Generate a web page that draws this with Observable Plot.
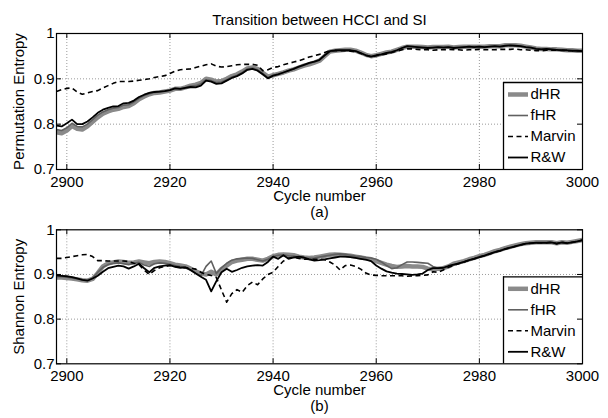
<!DOCTYPE html>
<html><head><meta charset="utf-8">
<script src="https://cdn.jsdelivr.net/npm/d3@7"></script>
<script src="https://cdn.jsdelivr.net/npm/@observablehq/plot@0.6"></script>
<style>
html,body{margin:0;padding:0;background:#fff;}
#chart{width:608px;height:418px;background:#fff;}
#chart svg{display:block;}
</style></head><body><div id="chart"></div>
<script>
const cycles = [
2898,2899,2900,2901,2902,2903,2904,2905,2906,2907,
2908,2909,2910,2911,2912,2913,2914,2915,2916,2917,
2918,2919,2920,2921,2922,2923,2924,2925,2926,2927,
2928,2929,2930,2931,2932,2933,2934,2935,2936,2937,
2938,2939,2940,2941,2942,2943,2944,2945,2946,2947,
2948,2949,2950,2951,2952,2953,2954,2955,2956,2957,
2958,2959,2960,2961,2962,2963,2964,2965,2966,2967,
2968,2969,2970,2971,2972,2973,2974,2975,2976,2977,
2978,2979,2980,2981,2982,2983,2984,2985,2986,2987,
2988,2989,2990,2991,2992,2993,2994,2995,2996,2997,
2998,2999,3000];
const seriesNames = ["dHR","fHR","Marvin","R&W"];
const xTicks = [2900,2920,2940,2960,2980,3000];
const yTicks = [0.7,0.8,0.9,1];
const yTickLabels = ["0.7","0.8","0.9","1"];
const titleText = "Transition between HCCI and SI";
const xLabelText = "Cycle number";
const panelTags = ["(a)","(b)"];
const yLabelTexts = ["Permutation Entropy","Shannon Entropy"];

// Panel (a): Permutation Entropy
const permDHR = [
0.782,0.780,0.786,0.796,0.790,0.788,0.795,0.805,0.815,0.823,
0.828,0.832,0.834,0.838,0.840,0.846,0.855,0.861,0.866,0.869,
0.870,0.872,0.874,0.878,0.878,0.881,0.885,0.887,0.891,0.900,
0.898,0.894,0.895,0.900,0.906,0.910,0.916,0.923,0.925,0.922,
0.913,0.905,0.908,0.911,0.914,0.918,0.921,0.925,0.929,0.932,
0.936,0.940,0.950,0.960,0.962,0.963,0.964,0.964,0.962,0.958,
0.953,0.950,0.952,0.955,0.958,0.960,0.964,0.968,0.971,0.971,
0.971,0.970,0.969,0.970,0.970,0.970,0.971,0.969,0.970,0.971,
0.971,0.971,0.971,0.971,0.972,0.972,0.972,0.974,0.974,0.974,
0.973,0.971,0.969,0.967,0.966,0.966,0.965,0.965,0.964,0.963,
0.963,0.962,0.962];
const permFHR = [
0.788,0.786,0.792,0.802,0.795,0.794,0.800,0.810,0.820,0.827,
0.832,0.835,0.837,0.842,0.843,0.849,0.857,0.863,0.867,0.870,
0.871,0.873,0.875,0.879,0.878,0.881,0.884,0.885,0.889,0.898,
0.896,0.892,0.893,0.898,0.904,0.908,0.914,0.922,0.924,0.920,
0.912,0.903,0.908,0.911,0.914,0.918,0.922,0.926,0.930,0.934,
0.937,0.941,0.951,0.960,0.962,0.963,0.963,0.963,0.962,0.957,
0.952,0.950,0.952,0.954,0.957,0.960,0.963,0.968,0.971,0.971,
0.970,0.970,0.969,0.969,0.970,0.970,0.970,0.969,0.970,0.970,
0.971,0.971,0.971,0.970,0.971,0.972,0.972,0.973,0.974,0.973,
0.972,0.970,0.969,0.967,0.966,0.966,0.965,0.964,0.964,0.963,
0.962,0.962,0.961];
const permMarvin = [
0.872,0.876,0.879,0.880,0.871,0.866,0.869,0.872,0.874,0.880,
0.885,0.890,0.894,0.894,0.894,0.895,0.897,0.898,0.900,0.903,
0.905,0.907,0.912,0.917,0.920,0.921,0.922,0.925,0.928,0.931,
0.933,0.928,0.926,0.927,0.929,0.931,0.932,0.932,0.932,0.930,
0.918,0.920,0.925,0.927,0.931,0.934,0.937,0.940,0.944,0.948,
0.951,0.954,0.958,0.962,0.962,0.962,0.962,0.961,0.960,0.956,
0.952,0.949,0.951,0.953,0.955,0.958,0.961,0.964,0.966,0.966,
0.965,0.964,0.964,0.963,0.964,0.964,0.965,0.964,0.964,0.963,
0.964,0.964,0.965,0.964,0.964,0.964,0.965,0.965,0.965,0.966,
0.964,0.964,0.963,0.962,0.962,0.963,0.963,0.963,0.963,0.962,
0.962,0.962,0.961];
const permRW = [
0.797,0.795,0.802,0.810,0.800,0.800,0.806,0.815,0.825,0.832,
0.836,0.839,0.840,0.846,0.847,0.852,0.860,0.865,0.869,0.871,
0.872,0.873,0.875,0.879,0.878,0.880,0.882,0.881,0.885,0.896,
0.894,0.889,0.890,0.896,0.902,0.906,0.912,0.920,0.922,0.918,
0.910,0.901,0.907,0.910,0.914,0.918,0.922,0.927,0.931,0.935,
0.938,0.942,0.952,0.961,0.963,0.963,0.963,0.963,0.961,0.957,
0.952,0.949,0.952,0.954,0.957,0.959,0.963,0.968,0.972,0.971,
0.970,0.969,0.968,0.969,0.970,0.969,0.970,0.968,0.969,0.970,
0.971,0.970,0.971,0.970,0.971,0.972,0.971,0.973,0.974,0.973,
0.972,0.970,0.969,0.966,0.965,0.966,0.965,0.964,0.963,0.963,
0.962,0.962,0.961];

// Panel (b): Shannon Entropy
const shanDHR = [
0.893,0.893,0.892,0.891,0.889,0.887,0.886,0.890,0.903,0.918,
0.925,0.927,0.929,0.928,0.926,0.927,0.929,0.927,0.925,0.928,
0.929,0.928,0.925,0.922,0.920,0.918,0.913,0.907,0.902,0.900,
0.906,0.900,0.912,0.920,0.928,0.931,0.933,0.935,0.935,0.933,
0.931,0.935,0.941,0.944,0.945,0.944,0.943,0.940,0.938,0.937,
0.938,0.940,0.942,0.944,0.945,0.944,0.943,0.942,0.940,0.938,
0.936,0.934,0.930,0.926,0.922,0.919,0.917,0.918,0.919,0.918,
0.918,0.917,0.913,0.912,0.913,0.914,0.918,0.924,0.927,0.930,
0.934,0.937,0.941,0.944,0.948,0.952,0.955,0.959,0.962,0.965,
0.968,0.970,0.971,0.972,0.972,0.972,0.972,0.970,0.972,0.971,
0.973,0.975,0.977];
const shanFHR = [
0.895,0.895,0.894,0.892,0.890,0.888,0.887,0.892,0.905,0.916,
0.922,0.925,0.926,0.924,0.922,0.925,0.927,0.921,0.918,0.924,
0.926,0.925,0.923,0.920,0.918,0.916,0.910,0.903,0.897,0.918,
0.930,0.902,0.915,0.925,0.932,0.935,0.936,0.937,0.936,0.933,
0.930,0.934,0.940,0.943,0.944,0.942,0.941,0.939,0.937,0.936,
0.937,0.939,0.941,0.943,0.945,0.946,0.945,0.943,0.941,0.940,
0.938,0.937,0.934,0.928,0.920,0.913,0.915,0.922,0.928,0.928,
0.927,0.926,0.925,0.918,0.914,0.914,0.917,0.921,0.925,0.928,
0.932,0.936,0.940,0.943,0.947,0.951,0.954,0.958,0.961,0.964,
0.967,0.969,0.970,0.971,0.971,0.971,0.971,0.969,0.971,0.970,
0.972,0.974,0.976];
const shanMarvin = [
0.936,0.936,0.938,0.940,0.942,0.944,0.945,0.940,0.931,0.931,
0.930,0.930,0.930,0.930,0.929,0.925,0.922,0.910,0.900,0.909,
0.915,0.918,0.920,0.918,0.916,0.915,0.914,0.912,0.905,0.900,
0.898,0.893,0.865,0.838,0.857,0.866,0.860,0.875,0.883,0.877,
0.890,0.900,0.905,0.918,0.930,0.937,0.938,0.936,0.934,0.934,
0.934,0.934,0.933,0.928,0.921,0.910,0.920,0.921,0.918,0.912,
0.903,0.899,0.898,0.897,0.897,0.897,0.897,0.897,0.896,0.897,
0.897,0.898,0.899,0.906,0.905,0.910,0.916,0.920,0.924,0.928,
0.932,0.935,0.939,0.942,0.946,0.950,0.953,0.957,0.960,0.963,
0.966,0.969,0.970,0.971,0.971,0.971,0.972,0.969,0.972,0.970,
0.972,0.974,0.977];
const shanRW = [
0.898,0.897,0.896,0.894,0.891,0.888,0.886,0.891,0.897,0.906,
0.914,0.917,0.920,0.918,0.913,0.918,0.924,0.914,0.905,0.915,
0.918,0.920,0.921,0.917,0.915,0.916,0.910,0.902,0.895,0.888,
0.862,0.885,0.905,0.913,0.906,0.910,0.915,0.918,0.920,0.921,
0.920,0.928,0.940,0.935,0.943,0.935,0.938,0.940,0.938,0.934,
0.931,0.932,0.934,0.936,0.938,0.940,0.940,0.939,0.937,0.935,
0.933,0.930,0.920,0.913,0.907,0.904,0.902,0.901,0.900,0.899,
0.900,0.902,0.910,0.914,0.914,0.915,0.919,0.922,0.925,0.928,
0.932,0.935,0.939,0.942,0.946,0.950,0.953,0.957,0.960,0.963,
0.966,0.969,0.970,0.971,0.971,0.971,0.972,0.969,0.972,0.970,
0.972,0.974,0.977];

const lineStyles = {
  "dHR":    {stroke: "#8a8a8a", strokeWidth: 4.5},
  "fHR":    {stroke: "#606060", strokeWidth: 1.6},
  "Marvin": {stroke: "#000000", strokeWidth: 1.6, strokeDasharray: "5,3.5"},
  "R&W":    {stroke: "#000000", strokeWidth: 1.8}
};
const FONT = "'Liberation Sans', Arial, Helvetica, sans-serif";
const W = 608, ML = 56, MR = 26;
const xDom = [2898, 3000], yDom = [0.7, 1];

function panel({series, yLabel, tag, height, marginTop, marginBottom, withTitle}) {
  const rows = seriesNames.flatMap((name, k) =>
    cycles.map((c, i) => ({cycle: c, value: series[k][i], name})));
  const plotH = height - marginTop - marginBottom;
  const plotW = W - ML - MR;
  const xPerPx = (xDom[1] - xDom[0]) / plotW;
  const yPerPx = (yDom[1] - yDom[0]) / plotH;
  const tx = 5 * xPerPx, ty = 5 * yPerPx;

  // legend box (lower-right corner of the axes), expressed through the scales
  const bw = 79, bh = 87, rowOffsets = [12, 33, 54, 75];
  const boxX1 = xDom[1] - bw * xPerPx;
  const boxY2 = yDom[0] + bh * yPerPx;
  const legendRows = seriesNames.map((name, i) => ({name, y: boxY2 - rowOffsets[i] * yPerPx}));
  const legendMarks = [
    Plot.rect([0], {x1: boxX1, x2: xDom[1], y1: yDom[0], y2: boxY2, fill: "#fff"}),
    Plot.ruleX([boxX1], {x: d => d, y1: yDom[0], y2: boxY2, stroke: "#000", strokeWidth: 1.3}),
    Plot.ruleY([boxY2], {y: d => d, x1: boxX1, x2: xDom[1], stroke: "#000", strokeWidth: 1.3}),
    ...legendRows.map(r => Plot.ruleY([r], {y: "y", x1: boxX1 + 5 * xPerPx, x2: boxX1 + 25 * xPerPx, ...lineStyles[r.name]})),
    Plot.text(legendRows, {x: boxX1 + 27 * xPerPx, y: "y", text: "name", textAnchor: "start", fill: "#000"})
  ];

  const marks = [
    Plot.ruleX(xTicks.filter(t => t > xDom[0] && t < xDom[1]), {x: d => d, stroke: "#9a9a9a", strokeDasharray: "1,2", strokeWidth: 1}),
    Plot.ruleY(yTicks.filter(t => t > yDom[0] && t < yDom[1]), {y: d => d, stroke: "#9a9a9a", strokeDasharray: "1,2", strokeWidth: 1}),
    ...seriesNames.map(name => Plot.line(rows.filter(r => r.name === name),
      {x: "cycle", y: "value", ...lineStyles[name], strokeLinejoin: "round", strokeLinecap: "butt"})),
    ...legendMarks,
    Plot.frame({stroke: "#000", strokeWidth: 1.2}),
    Plot.ruleX(xTicks, {x: d => d, y1: yDom[0], y2: yDom[0] + ty, stroke: "#000"}),
    Plot.ruleX(xTicks, {x: d => d, y1: yDom[1] - ty, y2: yDom[1], stroke: "#000"}),
    Plot.ruleY(yTicks, {y: d => d, x1: xDom[0], x2: xDom[0] + tx, stroke: "#000"}),
    Plot.ruleY(yTicks, {y: d => d, x1: xDom[1] - tx, x2: xDom[1], stroke: "#000"}),
    Plot.axisX(xTicks, {tickSize: 0, tickPadding: 7, tickFormat: d => String(d), label: null, fill: "#000"}),
    Plot.axisY(yTicks, {tickSize: 0, tickPadding: 2, tickFormat: d => yTickLabels[yTicks.indexOf(d)], label: null, fill: "#000"}),
    Plot.text([xLabelText], {text: d => d, frameAnchor: "bottom", textAnchor: "middle", dy: 31.5, fill: "#000"}),
    Plot.text([tag], {text: d => d, frameAnchor: "bottom", textAnchor: "middle", dy: 47, fill: "#000"}),
    Plot.text([yLabel], {text: d => d, frameAnchor: "left", textAnchor: "middle", rotate: -90, dx: -37, fill: "#000"})
  ];
  if (withTitle) marks.push(Plot.text([titleText], {text: d => d, frameAnchor: "top", textAnchor: "middle", dy: -19, fill: "#000"}));
  return Plot.plot({
    width: W, height, marginLeft: ML, marginRight: MR, marginTop, marginBottom,
    style: {fontFamily: FONT, fontSize: "15px", color: "#000", background: "#fff", overflow: "visible"},
    x: {domain: xDom, label: null},
    y: {domain: yDom, label: null},
    marks
  });
}

const chart = document.getElementById("chart");
chart.append(panel({series: [permDHR, permFHR, permMarvin, permRW], yLabel: yLabelTexts[0], tag: panelTags[0],
  height: 226, marginTop: 33, marginBottom: 57, withTitle: true}));
chart.append(panel({series: [shanDHR, shanFHR, shanMarvin, shanRW], yLabel: yLabelTexts[1], tag: panelTags[1],
  height: 192, marginTop: 3.3, marginBottom: 54.7, withTitle: false}));
</script></body></html>
